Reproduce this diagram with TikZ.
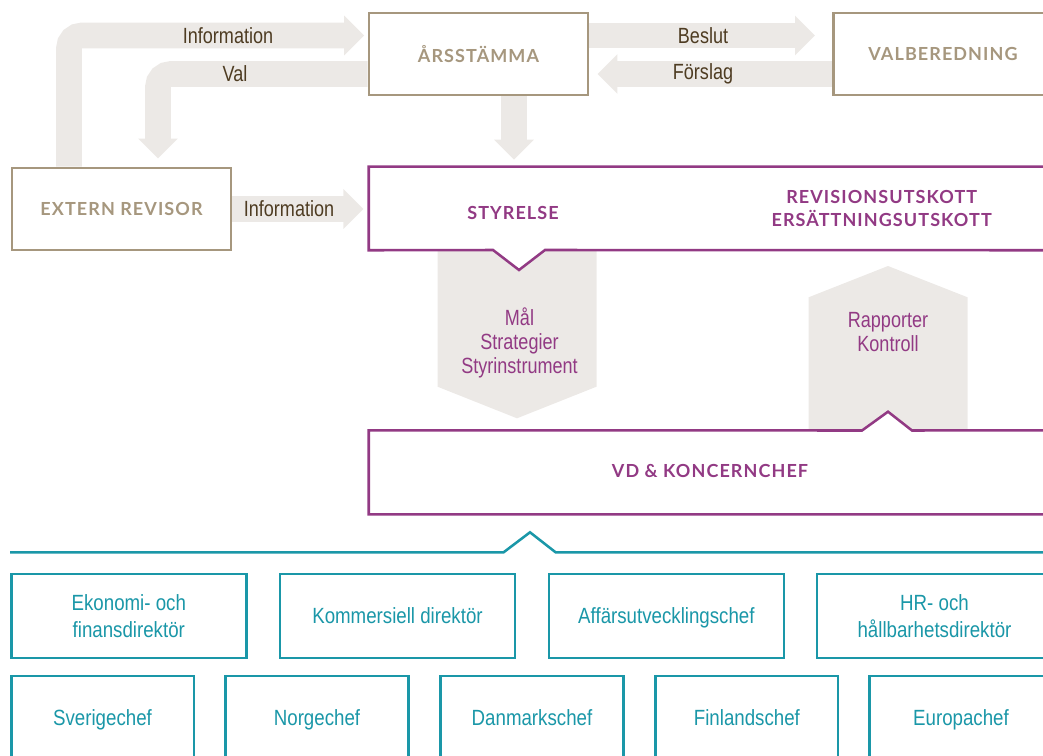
\documentclass[tikz,border=0pt]{standalone}
\usepackage{fontspec}
\usetikzlibrary{arrows.meta,calc}
\newfontfamily\condf[FakeStretch=0.82]{Liberation Sans}
\newfontfamily\condt[FakeStretch=0.85]{Liberation Sans}
\newfontfamily\titlef[LetterSpace=6]{Lato}
\definecolor{ctan}{HTML}{A6977E}
\definecolor{clbl}{HTML}{4E3C22}
\definecolor{cgrey}{HTML}{ECE9E6}
\definecolor{cpurp}{HTML}{923A84}
\definecolor{cteal}{HTML}{1A97A8}
\tikzset{
  tanbox/.style={draw=ctan, line width=2.2pt, fill=white, minimum width=164.25pt, minimum height=61.5pt,
    text=ctan, font=\titlef\bfseries\fontsize{13.5}{16}\selectfont},
  ptitle/.style={text=cpurp, font=\titlef\bfseries\fontsize{13.5}{17.25}\selectfont, align=center},
  garrow/.style={draw=cgrey, line width=19.2pt, line cap=butt, rounded corners=9.5pt,
    -{Triangle[length=15pt,width=29pt]}},
  lbl/.style={text=clbl, font=\condf\fontsize{16.5}{18}\selectfont},
  plbl/.style={text=cpurp, font=\condf\fontsize{16.5}{18}\selectfont, align=center},
  tealbox/.style={draw=cteal, line width=1.9pt, fill=white, text=cteal, align=center,
    font=\condt\fontsize{16.5}{20.25}\selectfont, minimum height=62.8pt},
  one/.style={text height=15.3pt, text depth=3.5pt},
  wide/.style={minimum width=176.25pt},
  narrow/.style={minimum width=136.9pt},
}
\begin{document}
\begin{tikzpicture}[x=0.75pt,y=-0.75pt]
\useasboundingbox (0,0) rectangle (1043,756);
% main boxes (anchors)
\node[tanbox] (ars) at (478.5,54) {ÅRSSTÄMMA};
\node[tanbox] (val) at (943,54) {VALBEREDNING};
\node[tanbox] (rev) at (121.5,209) {EXTERN REVISOR};
\node[minimum width=512.25pt, minimum height=62.25pt, inner sep=0pt] (sty) at (710.5,208.5) {};
\node[minimum width=512.25pt, minimum height=62.6pt, inner sep=0pt] (vd) at (710.5,472.3) {};

% grey block arrows
\coordinate (i1) at ($(rev.north)+(-52.5,0)$);
\coordinate (i2) at ($(ars.west)+(0,-18.5)$);
\draw[garrow, shorten >=2.6pt] (i1) |- (i2);
\coordinate (v1) at ($(ars.west)+(0,20)$);
\coordinate (v2) at ($(rev.north)+(36.5,0)$);
\draw[garrow, shorten >=6pt] (v1) -| (v2);
\coordinate (d1) at ($(ars.south)+(35.5,0)$);
\draw[garrow, shorten >=5.3pt] (d1) -- (d1 |- sty.north);
\coordinate (b1) at ($(ars.east)+(0,-18.5)$);
\draw[garrow, shorten >=12.75pt] (b1) -- (b1 -| val.west);
\coordinate (f1) at ($(val.west)+(0,20)$);
\draw[garrow, shorten >=6pt] (f1) -- (f1 -| ars.east);
\draw[garrow, shorten >=4pt] (rev.east) -- (rev.east -| sty.west);

% redraw boxes on top
\node[tanbox] at (ars) {ÅRSSTÄMMA};
\node[tanbox] at (val) {VALBEREDNING};
\node[tanbox] at (rev) {EXTERN REVISOR};

\node[lbl] (tInfo1) at (228,35.5) {Information};
\node[lbl] (tVal) at (235,74) {Val};
\node[lbl] (tBes) at (703,35.5) {Beslut};
\node[lbl] (tFor) at (703,74) {Förslag};
\node[lbl] (tInfo2) at (289,209) {Information};

% Mål / Rapporter shapes
\fill[cgrey] (437.5,245) -- (596.5,245) -- (596.5,386.7) -- (517,418.3) -- (437.5,386.7) -- cycle;
\fill[cgrey] (808.6,435) -- (808.6,297.3) -- (888,266) -- (967.6,297.3) -- (967.6,435) -- cycle;
\node[plbl] (mal) at (519.5,342.5) {Mål\\Strategier\\Styrinstrument};
\node[plbl] (rap) at (888,332) {Rapporter\\Kontroll};

% STYRELSE box outline with notch
\filldraw[draw=cpurp, fill=white, line width=1.9pt, line join=miter]
  (sty.north west) -- (sty.north east) -- (sty.south east) -- (545,250) -- (519,270) -- (493,250) -- (sty.south west) -- cycle;
\node[ptitle] (styT) at (513,213) {STYRELSE};
\node[ptitle] (kom) at (881.7,208.5) {REVISIONSUTSKOTT\\ERSÄTTNINGSUTSKOTT};

% VD box with upward notch
\filldraw[draw=cpurp, fill=white, line width=1.9pt, line join=miter]
  (vd.north west) -- (862,430.5) -- (888,411.7) -- (912,430.5) -- (vd.north east) -- (vd.south east) -- (vd.south west) -- cycle;
\node[ptitle] (vdT) at (710,471) {VD \& KONCERNCHEF};

% teal bracket
\coordinate (tl) at (10,552.3);
\coordinate (tr) at (1060,552.3);
\draw[cteal, line width=1.9pt, line join=miter] (tl) -- (503.6,552.3) -- (530,532.3) -- (555.6,552.3) -- (tr);

% row 1
\node[tealbox, wide] (eko) at (128.8,615.9) {Ekonomi- och\\finansdirektör};
\node[tealbox, wide, one] (kd) at (397.5,615.9) {Kommersiell direktör};
\node[tealbox, wide, one] (aff) at (666.4,615.9) {Affärsutvecklingschef};
\node[tealbox, wide] (hr) at (934.5,615.9) {HR- och\\hållbarhetsdirektör};
% row 2
\node[tealbox, narrow, one] (sve) at (102.5,717.7) {Sverigechef};
\node[tealbox, narrow, one] (nor) at (317,717.7) {Norgechef};
\node[tealbox, narrow, one] (dan) at (532,717.7) {Danmarkschef};
\node[tealbox, narrow, one] (fin) at (746.9,717.7) {Finlandschef};
\node[tealbox, narrow, one] (eur) at (961,717.7) {Europachef};
\end{tikzpicture}
\end{document}
